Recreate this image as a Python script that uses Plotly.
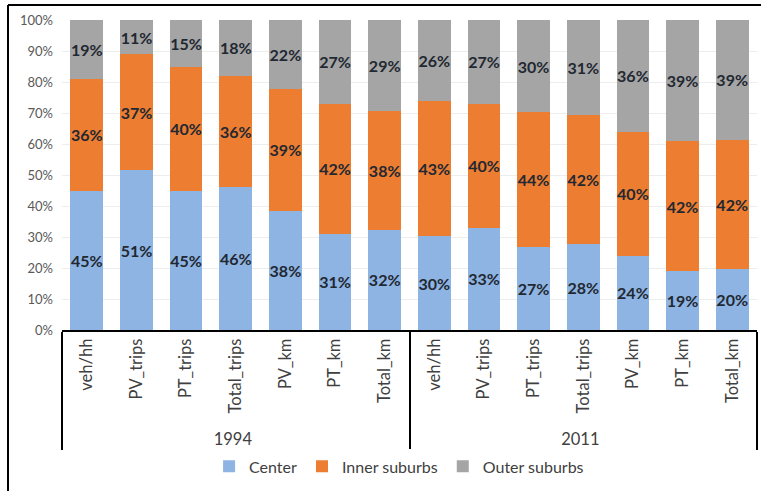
import plotly.graph_objects as go

years = ["1994"] * 7 + ["2011"] * 7
cats = ["veh/hh", "PV_trips", "PT_trips", "Total_trips", "PV_km", "PT_km", "Total_km"] * 2
center = [45, 51, 45, 46, 38, 31, 32, 30, 33, 27, 28, 24, 19, 20]
inner = [36, 37, 40, 36, 39, 42, 38, 43, 40, 44, 42, 40, 42, 42]
outer = [19, 11, 15, 18, 22, 27, 29, 26, 27, 30, 31, 36, 39, 39]
series = [("Center", center, "#8eb4e3"), ("Inner suburbs", inner, "#ed7d31"), ("Outer suburbs", outer, "#a5a5a5")]

W, H = 761, 491
L, R, T, B = 62, 4, 20, 161
FONT = "Lato, Open Sans, sans-serif"

fig = go.Figure()
for name, vals, col in series:
    fig.add_trace(go.Bar(
        x=[years, cats], y=vals, name=name, marker_color=col, marker_line_width=0,
        text=[f"{v}%" for v in vals], textposition="inside", insidetextanchor="middle",
        textangle=0, textfont=dict(family=FONT, size=16, color="#222831", weight="bold"),
        constraintext="none",
    ))

fig.update_layout(
    width=W, height=H, barmode="stack", barnorm="percent", bargap=0.34,
    margin=dict(l=L, r=R, t=T, b=B, autoexpand=False), plot_bgcolor="white", paper_bgcolor="white",
    font=dict(family=FONT, color="#404040"),
    legend=dict(orientation="h", x=0.485, xanchor="center", y=-0.44, yanchor="middle",
                font=dict(size=16, color="#404040"), traceorder="normal"),
    showlegend=True,
)
fig.update_yaxes(range=[0, 100], dtick=10, ticksuffix="%", showgrid=True, gridcolor="#ededed",
                 gridwidth=1, zeroline=False, tickfont=dict(size=13, color="#595959"), ticks="",
                 showline=False, ticklabelstandoff=8)
fig.update_xaxes(type="multicategory", showline=True, linecolor="black", linewidth=2, tickangle=-90,
                 tickfont=dict(size=16.5, color="#404040"), showdividers=True, dividercolor="black",
                 dividerwidth=2, ticks="")

# outer frame (top and left edges of the original picture)
x0 = (8 - L) / (W - L - R)
y1 = 1 + (T - 5) / (H - T - B)
fig.add_shape(type="line", xref="paper", yref="paper", x0=x0, x1=1.01, y0=y1, y1=y1, line=dict(color="black", width=2))
fig.add_shape(type="line", xref="paper", yref="paper", x0=x0, x1=x0, y0=y1, y1=-1.0, line=dict(color="black", width=2))

fig.write_html("out.html", config={"displayModeBar": False},
               post_script="document.body.style.margin='0';")
